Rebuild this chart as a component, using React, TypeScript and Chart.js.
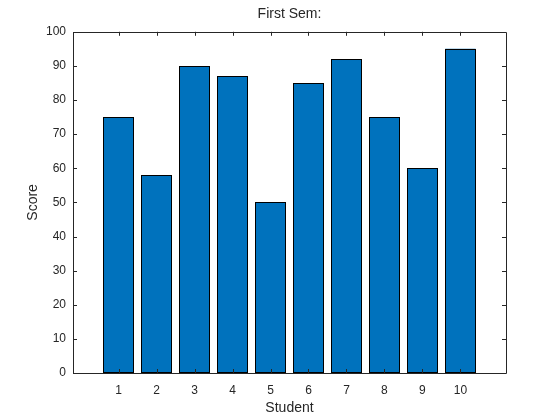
import React, { useEffect, useRef } from "react";
import { Chart, registerables } from "chart.js";

Chart.register(...registerables);

const students = [1, 2, 3, 4, 5, 6, 7, 8, 9, 10];
const scores = [75, 58, 90, 87, 50, 85, 92, 75, 60, 95];
const yTicks = [0, 10, 20, 30, 40, 50, 60, 70, 80, 90, 100];
const titleText = "First Sem:";
const xLabel = "Student";
const yLabel = "Score";

const AXIS = "#262626";
const FONT = "'Liberation Sans', Arial, Helvetica, sans-serif";

const boxPlugin = {
  id: "matlabBox",
  afterDatasetsDraw(chart: any) {
    const { ctx, chartArea } = chart;
    const { left, right, top, bottom } = chartArea;
    const xs = chart.scales.x;
    const ys = chart.scales.y;
    const tl = 4;
    ctx.save();
    // crisp bar edges, from the bar elements computed by Chart.js
    ctx.strokeStyle = "#000000";
    ctx.lineWidth = 1;
    const meta = chart.getDatasetMeta(0);
    meta.data.forEach((bar: any) => {
      const { x, y, base, width } = bar.getProps(["x", "y", "base", "width"], true);
      const l = Math.round(x - width / 2) + 0.5;
      const r = Math.round(x + width / 2) - 0.5;
      const t = Math.round(y) + 0.5;
      const b = Math.round(base) - 0.5;
      ctx.strokeRect(l, t, r - l, b - t);
    });
    ctx.strokeStyle = AXIS;
    ctx.beginPath();
    ctx.rect(Math.round(left) + 0.5, Math.round(top) + 0.5, Math.round(right - left), Math.round(bottom - top));
    ctx.stroke();
    ctx.beginPath();
    students.forEach((v) => {
      const px = Math.round(xs.getPixelForValue(v)) + 0.5;
      ctx.moveTo(px, bottom);
      ctx.lineTo(px, bottom - tl);
      ctx.moveTo(px, top);
      ctx.lineTo(px, top + tl);
    });
    yTicks.forEach((v) => {
      const py = Math.round(ys.getPixelForValue(v)) + 0.5;
      ctx.moveTo(left, py);
      ctx.lineTo(left + tl, py);
      ctx.moveTo(right, py);
      ctx.lineTo(right - tl, py);
    });
    ctx.stroke();
    ctx.restore();
  },
};

export default function App() {
  const ref = useRef<HTMLCanvasElement>(null);
  useEffect(() => {
    if (!ref.current) return;
    const chart = new Chart(ref.current, {
      type: "bar",
      data: {
        datasets: [
          {
            data: students.map((s, i) => ({ x: s, y: scores[i] })),
            backgroundColor: "#0072BD",
            borderWidth: 0,
            barPercentage: 0.8,
            categoryPercentage: 1.0,
          },
        ],
      },
      options: {
        responsive: false,
        animation: false,
        devicePixelRatio: 1,
        layout: { padding: { left: 0, right: 54, top: 0, bottom: 0 } },
        plugins: {
          legend: { display: false },
          tooltip: { enabled: false },
          title: {
            display: true,
            fullSize: false,
            text: titleText,
            color: AXIS,
            font: { family: FONT, size: 14, weight: "normal" },
            padding: { top: 6, bottom: 9 },
          },
        },
        scales: {
          x: {
            type: "linear",
            offset: false,
            min: -0.2,
            max: 11.2,
            afterBuildTicks: (scale: any) => {
              scale.ticks = students.map((v) => ({ value: v }));
            },
            afterFit: (scale: any) => {
              scale.height = 420 - 373;
            },
            grid: { display: false, drawTicks: false, offset: false },
            border: { display: false },
            ticks: {
              color: AXIS,
              font: { family: FONT, size: 12 },
              padding: 10,
              maxRotation: 0,
              autoSkip: false,
            },
            title: {
              display: true,
              text: xLabel,
              color: AXIS,
              font: { family: FONT, size: 14 },
              padding: { top: 0, bottom: 3 },
            },
          },
          y: {
            min: 0,
            max: 100,
            afterBuildTicks: (scale: any) => {
              scale.ticks = yTicks.map((v) => ({ value: v }));
            },
            afterFit: (scale: any) => {
              scale.width = 73;
            },
            grid: { display: false, drawTicks: false },
            border: { display: false },
            ticks: {
              color: AXIS,
              font: { family: FONT, size: 12 },
              padding: 7,
            },
            title: {
              display: true,
              text: yLabel,
              color: AXIS,
              font: { family: FONT, size: 14 },
              padding: { top: 25, bottom: 0 },
            },
          },
        },
      },
      plugins: [boxPlugin],
    } as any);
    return () => chart.destroy();
  }, []);
  return (
    <div style={{ position: "fixed", left: 0, top: 0, width: 560, height: 420, background: "#fff" }}>
      <canvas ref={ref} width={560} height={420} />
    </div>
  );
}
